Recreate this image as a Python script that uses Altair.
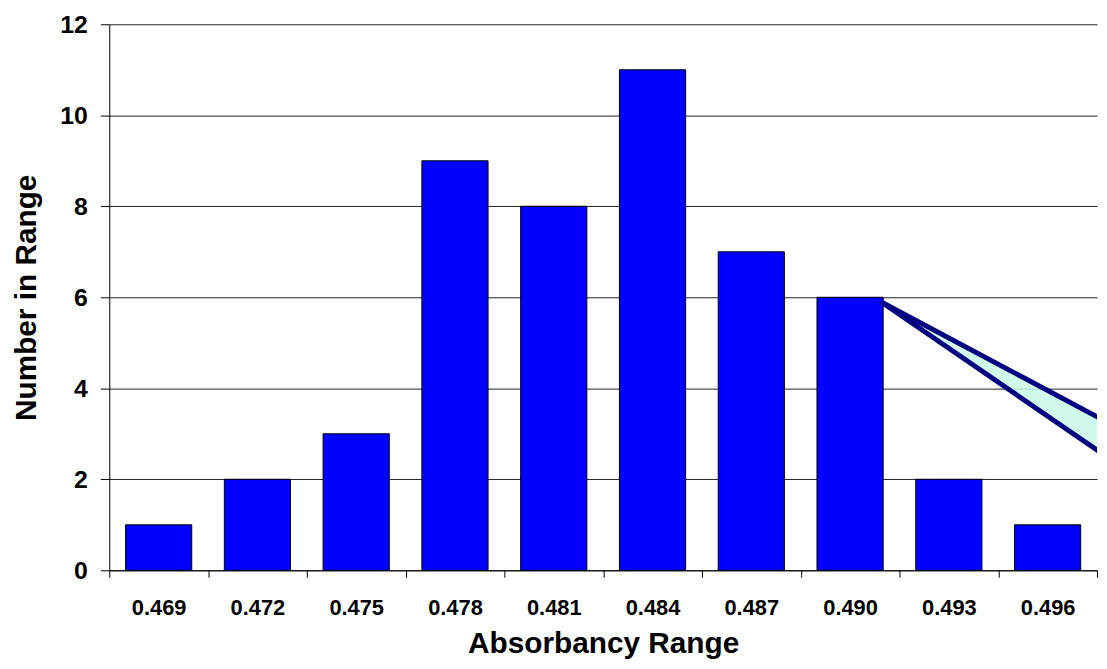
import altair as alt
import pandas as pd

# ---- data ----
categories = ["0.469", "0.472", "0.475", "0.478", "0.481",
              "0.484", "0.487", "0.490", "0.493", "0.496"]
counts = [1, 2, 3, 9, 8, 11, 7, 6, 2, 1]

# the stray wedge-shaped callout that starts at the top of the 0.490 bar
# (x in category-slot units: 0 = left edge of plot, 10 = right edge)
wedge_x = [7.82, 10.5]
wedge_upper = [5.89, 2.80]
wedge_lower = [5.89, 1.90]

y_ticks = [0, 2, 4, 6, 8, 10, 12]

bars_df = pd.DataFrame({"range": categories, "count": counts})
fill_df = pd.DataFrame({"x": wedge_x, "upper": wedge_upper, "lower": wedge_lower})
edge_df = pd.DataFrame({
    "x": wedge_x + wedge_x,
    "y": wedge_upper + wedge_lower,
    "edge": ["upper"] * len(wedge_x) + ["lower"] * len(wedge_x),
})

FONT = "Liberation Sans"

y_scale = alt.Scale(domain=[0, 12], nice=False, zero=True)
wedge_x_scale = alt.Scale(domain=[0, 10], nice=False, zero=False)

y_axis = alt.Axis(
    title="Number in Range", values=y_ticks, grid=True,
    gridColor="#222222", gridWidth=1, gridOpacity=1,
    tickSize=9, labelPadding=13, labelFontSize=25,
    titleFontSize=30, titlePadding=18,
)

bars = alt.Chart(bars_df).mark_bar(
    color="#0000FF", stroke="#000000", strokeWidth=1,
    width={"band": 0.67},
).encode(
    x=alt.X(
        "range:N", sort=None,
        scale=alt.Scale(paddingInner=0, paddingOuter=0),
        axis=alt.Axis(
            title="Absorbancy Range", labelAngle=0, tickBand="extent",
            tickSize=7, labelPadding=21, labelFontSize=22,
            titleFontSize=30, titlePadding=10, grid=False,
        ),
    ),
    y=alt.Y("count:Q", scale=y_scale, axis=y_axis),
)

fill = alt.Chart(fill_df).mark_area(
    color="#c8f9e5", opacity=0.85, clip=True
).encode(
    x=alt.X("x:Q", scale=wedge_x_scale, axis=None),
    y=alt.Y("upper:Q", scale=y_scale, axis=y_axis),
    y2="lower:Q",
)

edges = alt.Chart(edge_df).mark_line(
    color="#000080", strokeWidth=5, clip=True
).encode(
    x=alt.X("x:Q", scale=wedge_x_scale, axis=None),
    y=alt.Y("y:Q", scale=y_scale, axis=y_axis),
    detail="edge:N",
)

chart = alt.layer(bars, fill, edges).resolve_scale(
    x="independent"
).properties(
    width=995,
    height=550,
    autosize=alt.AutoSizeParams(type="none"),
    padding={"left": 102, "top": 14, "right": 2, "bottom": 95},
).configure_axis(
    labelFont=FONT, titleFont=FONT,
    labelFontWeight="bold", titleFontWeight="bold",
    labelColor="#000000", titleColor="#000000",
    domainColor="#000000", tickColor="#000000",
    domainWidth=1, tickWidth=1,
).configure_view(
    strokeWidth=0
)

chart.save("out.html", embed_options={"renderer": "svg", "actions": False})
